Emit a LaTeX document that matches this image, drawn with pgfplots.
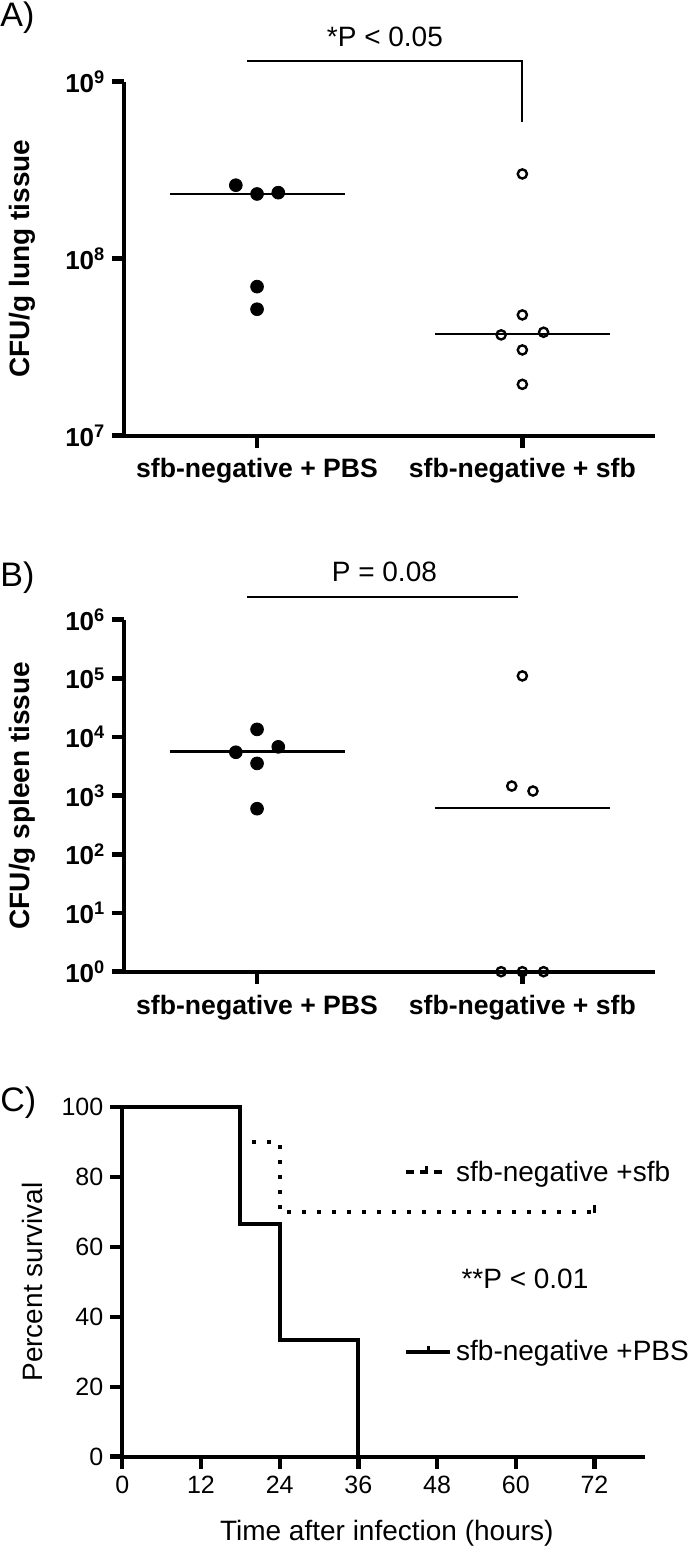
\documentclass[border=0pt]{standalone}
\usepackage{pgfplots}
\pgfplotsset{compat=1.18}
\usepackage{fontspec}
\setmainfont{Liberation Sans}
\pgfplotsset{
  legsfb/.style={legend image code/.code={\draw[line width=2pt, dash pattern=on 4pt off 3pt] (0pt,0pt) -- (20pt,0pt); \draw[line width=1.5pt] (10pt,0pt) -- (10pt,3pt);}},
  legpbs/.style={legend image code/.code={\draw[line width=2pt] (0pt,0pt) -- (22pt,0pt); \draw[line width=1.5pt] (11pt,0pt) -- (11pt,3pt);}},
}
\tikzset{tk/.style={line width=2.2pt, black}}
\begin{document}
\begin{tikzpicture}
\path[use as bounding box] (0pt,0pt) rectangle (350pt,775pt);
\pgfplotsset{
  panel/.style={
    scale only axis, clip=false,
    axis lines=left,
    axis line style={line width=2pt,-},
    tick align=outside,
    major tick length=6pt,
    tick style={black,line width=2pt},
    yminorticks=false, xminorticks=false,
  },
  dotA/.style={only marks, mark=*, mark size=3.2pt, black},
  ringA/.style={only marks, mark=o, mark size=2.3pt, mark options={line width=1.2pt}, black},
  med/.style={line width=1.3pt, black},
}
% ---------------- Panel A ----------------
\begin{axis}[panel, at={(62.2pt,557.15pt)}, anchor=south west,
  width=265.3pt, height=177pt,
  xmin=-0.5, xmax=1.5, ymode=log, ymin=1e7, ymax=1e9,
  xtick={0,1}, xticklabels={sfb-negative + PBS, sfb-negative + sfb},
  ytick={1e7,1e8,1e9},
  yticklabels={10\textsuperscript{7},10\textsuperscript{8},10\textsuperscript{9}},
  xticklabel style={font=\bfseries\fontsize{13.3}{15}\selectfont, yshift=-2pt},
  yticklabel style={font=\bfseries\fontsize{13}{15}\selectfont},
  ylabel={CFU/g lung tissue},
  every axis y label/.style={at={(axis description cs:-0.192,0.5)}, rotate=90, anchor=center, font=\bfseries\fontsize{14}{16}\selectfont},
]
\addplot[med] coordinates {(-0.33,2.32e8) (0.33,2.32e8)};
\addplot[med] coordinates {(0.67,3.76e7) (1.33,3.76e7)};
\addplot[dotA] coordinates {(-0.08,2.6e8) (0,2.32e8) (0.08,2.36e8) (0,6.95e7) (0,5.18e7)};
\addplot[ringA] coordinates {(1,3.01e8) (1,4.81e7) (0.92,3.71e7) (1.08,3.84e7) (1,3.05e7) (1,1.95e7)};
\draw[tk] (axis cs:-0.5,1e7) -- ++(-6pt,0pt);
\draw[tk] (axis cs:-0.5,1e8) -- ++(-6pt,0pt);
\draw[tk] (axis cs:-0.5,1e9) -- ++(-6pt,0pt);
\draw[tk] (axis cs:0,1e7) -- ++(0pt,-6pt);
\draw[tk] (axis cs:1,1e7) -- ++(0pt,-6pt);
\draw[line width=1pt] (axis cs:-0.037,1.30e9) -- (axis cs:1,1.30e9) -- (axis cs:1,5.94e8);
\node[font=\fontsize{14}{16}\selectfont] at (axis description cs:0.491,1.126) {*P < 0.05};
\end{axis}
% ---------------- Panel B ----------------
\begin{axis}[panel, at={(62.2pt,289.15pt)}, anchor=south west,
  width=265.3pt, height=176pt,
  xmin=-0.5, xmax=1.5, ymode=log, ymin=1, ymax=1e6,
  xtick={0,1}, xticklabels={sfb-negative + PBS, sfb-negative + sfb},
  ytick={1,10,100,1000,10000,100000,1000000},
  yticklabels={10\textsuperscript{0},10\textsuperscript{1},10\textsuperscript{2},10\textsuperscript{3},10\textsuperscript{4},10\textsuperscript{5},10\textsuperscript{6}},
  xticklabel style={font=\bfseries\fontsize{13.3}{15}\selectfont, yshift=-2pt},
  yticklabel style={font=\bfseries\fontsize{13}{15}\selectfont},
  ylabel={CFU/g spleen tissue},
  every axis y label/.style={at={(axis description cs:-0.192,0.5)}, rotate=90, anchor=center, font=\bfseries\fontsize{14}{16}\selectfont},
]
\addplot[med] coordinates {(-0.33,5.6e3) (0.33,5.6e3)};
\addplot[med] coordinates {(0.67,620) (1.33,620)};
\addplot[dotA] coordinates {(0,1.35e4) (-0.08,5.5e3) (0.08,6.8e3) (0,3.55e3) (0,600)};
\addplot[ringA] coordinates {(1,1.1e5) (0.96,1460) (1.04,1200) (0.92,1) (1,1) (1.08,1)};
\draw[tk] (axis cs:-0.5,1) -- ++(-6pt,0pt);
\draw[tk] (axis cs:-0.5,10) -- ++(-6pt,0pt);
\draw[tk] (axis cs:-0.5,100) -- ++(-6pt,0pt);
\draw[tk] (axis cs:-0.5,1000) -- ++(-6pt,0pt);
\draw[tk] (axis cs:-0.5,10000) -- ++(-6pt,0pt);
\draw[tk] (axis cs:-0.5,100000) -- ++(-6pt,0pt);
\draw[tk] (axis cs:-0.5,1000000) -- ++(-6pt,0pt);
\draw[tk] (axis cs:0,1) -- ++(0pt,-6pt);
\draw[tk] (axis cs:1,1) -- ++(0pt,-6pt);
\draw[line width=1pt] (axis cs:-0.037,2.42e6) -- (axis cs:0.985,2.42e6);
\node[font=\fontsize{14}{16}\selectfont] at (axis description cs:0.49,1.1355) {P = 0.08};
\end{axis}
% ---------------- Panel C ----------------
\begin{axis}[panel, at={(61.15pt,46.65pt)}, anchor=south west,
  width=261.35pt, height=174.7pt,
  xmin=0, xmax=79.7, ymin=0, ymax=100,
  xtick={0,12,24,36,48,60,72}, ytick={0,20,40,60,80,100},
  /pgf/number format/assume math mode=true,
  ticklabel style={font=\fontsize{12.5}{14}\selectfont},
  xlabel={Time after infection (hours)},
  ylabel={Percent survival},
  every axis y label/.style={at={(axis description cs:-0.171,0.5)}, rotate=90, anchor=center, font=\fontsize{14}{16}\selectfont},
  every axis x label/.style={at={(axis description cs:0.506,-0.218)}, anchor=center, font=\fontsize{14}{16}\selectfont},
  legend style={draw=none, fill=none, at={(axis description cs:0.527,0.557)}, anchor=west,
    row sep=74pt, font=\fontsize{14}{16}\selectfont},
  legend cell align=left,
]
\addplot[const plot, line width=2pt, dash pattern=on 2pt off 5.5pt, forget plot] coordinates {(0,100) (18,90) (24,70) (72,70)};
\addplot[const plot, line width=2pt, forget plot] coordinates {(0,100) (18,66.7) (24,33.3) (36,0)};
\addplot[only marks, mark=|, mark size=2pt, mark options={line width=1.5pt, solid}, forget plot] coordinates {(72,71)};
\draw[tk] (axis cs:0,0) -- ++(-6pt,0pt);
\draw[tk] (axis cs:0,20) -- ++(-6pt,0pt);
\draw[tk] (axis cs:0,40) -- ++(-6pt,0pt);
\draw[tk] (axis cs:0,60) -- ++(-6pt,0pt);
\draw[tk] (axis cs:0,80) -- ++(-6pt,0pt);
\draw[tk] (axis cs:0,100) -- ++(-6pt,0pt);
\draw[tk] (axis cs:0,0) -- ++(0pt,-6pt);
\draw[tk] (axis cs:12,0) -- ++(0pt,-6pt);
\draw[tk] (axis cs:24,0) -- ++(0pt,-6pt);
\draw[tk] (axis cs:36,0) -- ++(0pt,-6pt);
\draw[tk] (axis cs:48,0) -- ++(0pt,-6pt);
\draw[tk] (axis cs:60,0) -- ++(0pt,-6pt);
\draw[tk] (axis cs:72,0) -- ++(0pt,-6pt);
\addlegendimage{legsfb}
\addlegendentry{sfb-negative +sfb}
\addlegendimage{legpbs}
\addlegendentry{sfb-negative +PBS}
\node[font=\fontsize{14}{16}\selectfont] at (axis cs:61.4,51) {**P < 0.01};
\end{axis}
% panel letters
\node[anchor=west, inner sep=0pt, font=\fontsize{17}{19}\selectfont] at (0pt,766pt) {A)};
\node[anchor=west, inner sep=0pt, font=\fontsize{17}{19}\selectfont] at (0pt,486pt) {B)};
\node[anchor=west, inner sep=0pt, font=\fontsize{17}{19}\selectfont] at (0pt,223.5pt) {C)};
\end{tikzpicture}
\end{document}
